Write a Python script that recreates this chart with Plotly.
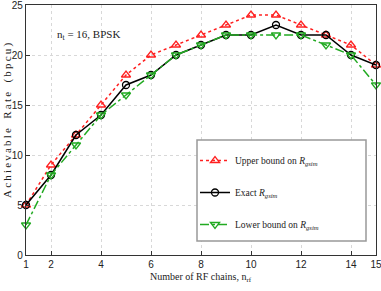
import plotly.graph_objects as go

n_rf = [1, 2, 3, 4, 5, 6, 7, 8, 9, 10, 11, 12, 13, 14, 15]
upper = [5, 9, 12, 15, 18, 20, 21, 22, 23, 24, 24, 23, 22, 21, 19]
exact = [5, 8, 12, 14, 17, 18, 20, 21, 22, 22, 23, 22, 22, 20, 19]
lower = [3, 8, 11, 14, 16, 18, 20, 21, 22, 22, 22, 22, 21, 20, 17]
x_ticks = [1, 2, 4, 6, 8, 10, 12, 14, 15]
y_ticks = [0, 5, 10, 15, 20, 25]

W, H = 381, 291
L, R, T, B = 26, 5, 5, 36
PW, PH = W - L - R, H - T - B

def px(xp):
    return (xp - L) / PW

def py(yp):
    return (H - B - yp) / PH

serif = "Liberation Serif, Times New Roman, serif"
tickfont = dict(family="Liberation Sans Narrow, Arial Narrow, Liberation Sans, sans-serif", size=10, color="#222")

fig = go.Figure()
fig.add_trace(go.Scatter(
    x=n_rf, y=upper, mode="lines+markers", cliponaxis=False,
    name="Upper bound on <i>R</i><sub><i>gsim</i></sub>", legendgroup="a",
    line=dict(color="#ff2020", width=1.5, dash="dot"),
    marker=dict(symbol="triangle-up-open", size=8, color="#ff2020", line=dict(width=1.3))))
fig.add_trace(go.Scatter(
    x=n_rf, y=exact, mode="lines+markers", cliponaxis=False,
    name="Exact <i>R</i><sub><i>gsim</i></sub>", legendgroup="b",
    line=dict(color="black", width=1.5),
    marker=dict(symbol="circle-open", size=7, color="black", line=dict(width=1.3))))
fig.add_trace(go.Scatter(
    x=n_rf, y=lower, mode="lines+markers", cliponaxis=False,
    name="Lower bound on <i>R</i><sub><i>gsim</i></sub>", legendgroup="c",
    line=dict(color="#22aa22", width=1.5, dash="dashdot"),
    marker=dict(symbol="triangle-down-open", size=8, color="#22aa22", line=dict(width=1.3))))

axis_common = dict(
    ticks="inside", ticklen=4, tickcolor="#333",
    showline=True, linecolor="#333", linewidth=1.2, mirror=True,
    showgrid=True, gridcolor="#d8d8d8", griddash="dot", gridwidth=1,
    zeroline=False, tickfont=tickfont, automargin=False,
    ticklabeloverflow="allow")

fig.update_layout(
    width=W, height=H,
    margin=dict(l=L, r=R, t=T, b=B, autoexpand=False),
    paper_bgcolor="white", plot_bgcolor="white",
    showlegend=True,
    legend=dict(
        x=px(195), y=py(146), xanchor="left", yanchor="top",
        bgcolor="rgba(0,0,0,0)", borderwidth=0,
        font=dict(family=serif, size=9.5, color="#222"),
        tracegroupgap=13, traceorder="grouped",
        itemwidth=30),
    xaxis=dict(range=[1, 15], tickmode="array", tickvals=x_ticks, **axis_common),
    yaxis=dict(range=[0, 25], tickmode="array", tickvals=y_ticks, **axis_common),
    shapes=[dict(type="rect", xref="paper", yref="paper",
                 x0=px(197), x1=px(366), y0=py(241), y1=py(140),
                 line=dict(color="#999", width=1.5), fillcolor="white", layer="above")],
)

ytitle = "\u2009".join("Achievable Rate (bpcu)").replace(" \u2009", "\u2009\u2009 ")
fig.add_annotation(
    x=px(8), y=py(121), xref="paper", yref="paper", xanchor="center", yanchor="middle",
    text=ytitle, textangle=-90, showarrow=False,
    font=dict(family=serif, size=11, color="#222"))
fig.add_annotation(
    x=px(201), y=py(277), xref="paper", yref="paper", xanchor="center", yanchor="middle",
    text="Number of RF chains, n<sub>rf</sub>", showarrow=False,
    font=dict(family=serif, size=10, color="#222"))
fig.add_annotation(
    x=2.15, y=22, xref="x", yref="y", xanchor="left", yanchor="middle",
    text="n<sub>t</sub> = 16, BPSK", showarrow=False,
    font=dict(family=serif, size=11, color="#222"))

fig.write_html("out.html", config={"displayModeBar": False},
               post_script="document.body.style.margin='0';document.body.style.overflow='hidden';")
